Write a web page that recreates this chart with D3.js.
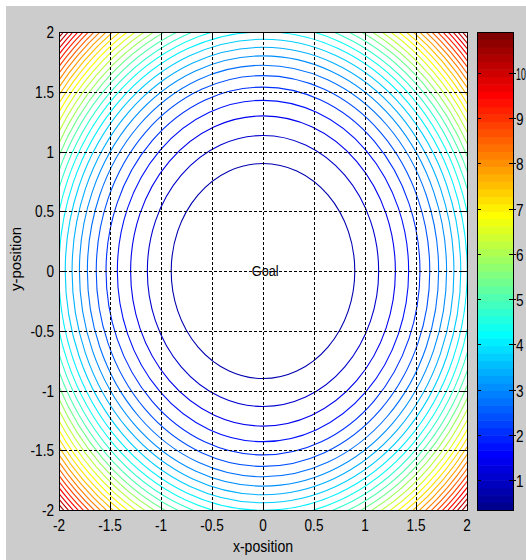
<!DOCTYPE html>
<html>
<head>
<meta charset="utf-8">
<script src="https://cdn.jsdelivr.net/npm/d3@7"></script>
<style>
  html, body { margin: 0; padding: 0; background: #ffffff; }
  svg { display: block; }
  text { font-family: "Liberation Sans", Arial, sans-serif; fill: #000; }
</style>
</head>
<body>
<svg id="chart" width="526" height="560"></svg>
<script>
// ---------------- data ----------------
const xTicks = [-2, -1.5, -1, -0.5, 0, 0.5, 1, 1.5, 2];
const xTickLabels = ["-2", "-1.5", "-1", "-0.5", "0", "0.5", "1", "1.5", "2"];
const yTicks = [-2, -1.5, -1, -0.5, 0, 0.5, 1, 1.5, 2];
const yTickLabels = ["-2", "-1.5", "-1", "-0.5", "0", "0.5", "1", "1.5", "2"];
// contour level values (colour) and the radius at which each closed contour lies
const levels = [0.68, 1.02, 1.36, 1.70, 2.04, 2.38, 2.72, 3.06, 3.41, 3.75,
                4.09, 4.43, 4.77, 5.11, 5.45, 5.79, 6.13, 6.47, 6.81, 7.15,
                7.49, 7.83, 8.17, 8.51, 8.86, 9.20, 9.54, 9.88, 10.22, 10.56];
const radii  = [0.900, 1.134, 1.298, 1.428, 1.539, 1.635, 1.722, 1.800, 1.872, 1.939,
                2.002, 2.061, 2.116, 2.169, 2.220, 2.268, 2.314, 2.359, 2.402, 2.443,
                2.483, 2.522, 2.560, 2.596, 2.632, 2.666, 2.700, 2.733, 2.765, 2.797];
const goal = { x: -0.11, y: 0, label: "Goal" };
const colorRange = [0.34, 10.9];
const cbarTicks = [1, 2, 3, 4, 5, 6, 7, 8, 9, 10];
const xTitle = "x-position";
const yTitle = "y-position";

// ---------------- jet(64) colormap ----------------
function jet64() {
  const m = 64, n = 16;
  const u = [];
  for (let j = 1; j <= n; j++) u.push(j / n);
  for (let j = 0; j < n - 1; j++) u.push(1);
  for (let j = n; j >= 1; j--) u.push(j / n);
  const cmap = Array.from({length: m}, () => [0, 0, 0]);
  const g0 = Math.ceil(n / 2) - (m % 4 === 1 ? 1 : 0);
  u.forEach((val, k) => {
    const gi = g0 + k + 1, ri = gi + n, bi = gi - n;
    if (gi >= 1 && gi <= m) cmap[gi - 1][1] = val;
    if (ri >= 1 && ri <= m) cmap[ri - 1][0] = val;
    if (bi >= 1 && bi <= m) cmap[bi - 1][2] = val;
  });
  return cmap.map(c => d3.rgb(c[0] * 255, c[1] * 255, c[2] * 255).formatHex());
}
const cmap = jet64();
function colorFor(v) {
  let i = Math.floor((v - colorRange[0]) / (colorRange[1] - colorRange[0]) * cmap.length);
  i = Math.max(0, Math.min(cmap.length - 1, i));
  return cmap[i];
}

// ---------------- layout ----------------
const svg = d3.select("#chart");
const plot = { left: 59, right: 467, top: 32, bottom: 510 };
const cbar = { left: 477, right: 513, top: 32, bottom: 510 };
const x = d3.scaleLinear().domain([-2, 2]).range([plot.left, plot.right]);
const y = d3.scaleLinear().domain([-2, 2]).range([plot.bottom, plot.top]);
const cy = d3.scaleLinear().domain(colorRange).range([cbar.bottom, cbar.top]);

const FS = 16, SX = 0.85;
function label(g, px, py, txt, anchor, sx) {
  return g.append("text")
    .attr("transform", `translate(${px},${py}) scale(${sx},1)`)
    .attr("text-anchor", anchor)
    .attr("font-size", FS)
    .text(txt);
}

// figure background
svg.append("rect").attr("x", 6).attr("y", 6).attr("width", 520).attr("height", 554)
  .attr("fill", "#cccccc");

// axes background
svg.append("rect")
  .attr("x", plot.left).attr("y", plot.top)
  .attr("width", plot.right - plot.left).attr("height", plot.bottom - plot.top)
  .attr("fill", "#ffffff");

svg.append("clipPath").attr("id", "plotclip").append("rect")
  .attr("x", plot.left).attr("y", plot.top)
  .attr("width", plot.right - plot.left).attr("height", plot.bottom - plot.top);

// contours
const cg = svg.append("g").attr("clip-path", "url(#plotclip)");
cg.selectAll("ellipse").data(levels.map((v, i) => ({v, r: radii[i]})))
  .enter().append("ellipse")
  .attr("cx", x(0)).attr("cy", y(0))
  .attr("rx", d => x(d.r) - x(0))
  .attr("ry", d => y(0) - y(d.r))
  .attr("fill", "none")
  .attr("stroke", d => colorFor(d.v))
  .attr("stroke-width", 1.1);

// grid
const gg = svg.append("g").attr("stroke", "#000").attr("stroke-width", 1)
  .attr("stroke-dasharray", "3,2");
xTicks.slice(1, -1).forEach(t => {
  gg.append("line").attr("x1", Math.round(x(t)) + 0.5).attr("x2", Math.round(x(t)) + 0.5)
    .attr("y1", plot.top).attr("y2", plot.bottom);
});
yTicks.slice(1, -1).forEach(t => {
  gg.append("line").attr("y1", Math.round(y(t)) + 0.5).attr("y2", Math.round(y(t)) + 0.5)
    .attr("x1", plot.left).attr("x2", plot.right);
});

// goal label
svg.append("text")
  .attr("transform", `translate(${x(goal.x)},${y(goal.y) + 5}) scale(${SX},1)`)
  .attr("font-size", 15).text(goal.label);

// tick marks
const tg = svg.append("g").attr("stroke", "#000").attr("stroke-width", 1);
const TL = 5;
xTicks.forEach(t => {
  const px = Math.round(x(t)) + 0.5;
  tg.append("line").attr("x1", px).attr("x2", px).attr("y1", plot.bottom).attr("y2", plot.bottom - TL);
  tg.append("line").attr("x1", px).attr("x2", px).attr("y1", plot.top).attr("y2", plot.top + TL);
});
yTicks.forEach(t => {
  const py = Math.round(y(t)) + 0.5;
  tg.append("line").attr("y1", py).attr("y2", py).attr("x1", plot.left).attr("x2", plot.left + TL);
  tg.append("line").attr("y1", py).attr("y2", py).attr("x1", plot.right).attr("x2", plot.right - TL);
});

// axes box
svg.append("rect")
  .attr("x", plot.left + 0.5).attr("y", plot.top + 0.5)
  .attr("width", plot.right - plot.left).attr("height", plot.bottom - plot.top)
  .attr("fill", "none").attr("stroke", "#000").attr("stroke-width", 1);

// tick labels
const lg = svg.append("g");
xTicks.forEach((t, i) => label(lg, x(t), 531, xTickLabels[i], "middle", SX));
yTicks.forEach((t, i) => label(lg, 54, y(t) + 6, yTickLabels[i], "end", SX));

// axis titles
label(svg, x(0), 552, xTitle, "middle", 0.88);
svg.append("text")
  .attr("transform", `translate(${21},${y(0) - 12}) rotate(-90)`)
  .attr("text-anchor", "middle").attr("font-size", 15).text(yTitle);

// colorbar
const n = cmap.length;
const step = (colorRange[1] - colorRange[0]) / n;
const cbg = svg.append("g");
cmap.forEach((c, i) => {
  const v0 = colorRange[0] + i * step, v1 = v0 + step;
  cbg.append("rect")
    .attr("x", cbar.left).attr("width", cbar.right - cbar.left)
    .attr("y", cy(v1)).attr("height", cy(v0) - cy(v1) + 0.5)
    .attr("fill", c);
});
cbg.append("rect")
  .attr("x", cbar.left + 0.5).attr("y", cbar.top + 0.5)
  .attr("width", cbar.right - cbar.left).attr("height", cbar.bottom - cbar.top)
  .attr("fill", "none").attr("stroke", "#000");
cbarTicks.forEach(t => {
  const py = Math.round(cy(t)) + 0.5;
  cbg.append("line").attr("x1", cbar.right - 4).attr("x2", cbar.right + 3)
    .attr("y1", py).attr("y2", py).attr("stroke", "#000");
  cbg.append("line").attr("x1", cbar.left).attr("x2", cbar.left + 4)
    .attr("y1", py).attr("y2", py).attr("stroke", "#000");
  const s = String(t);
  // narrow the two-digit label so it stays inside the window
  label(cbg, cbar.right + 3, py + 6, s, "start", s.length > 1 ? 0.55 : SX);
});
</script>
</body>
</html>
